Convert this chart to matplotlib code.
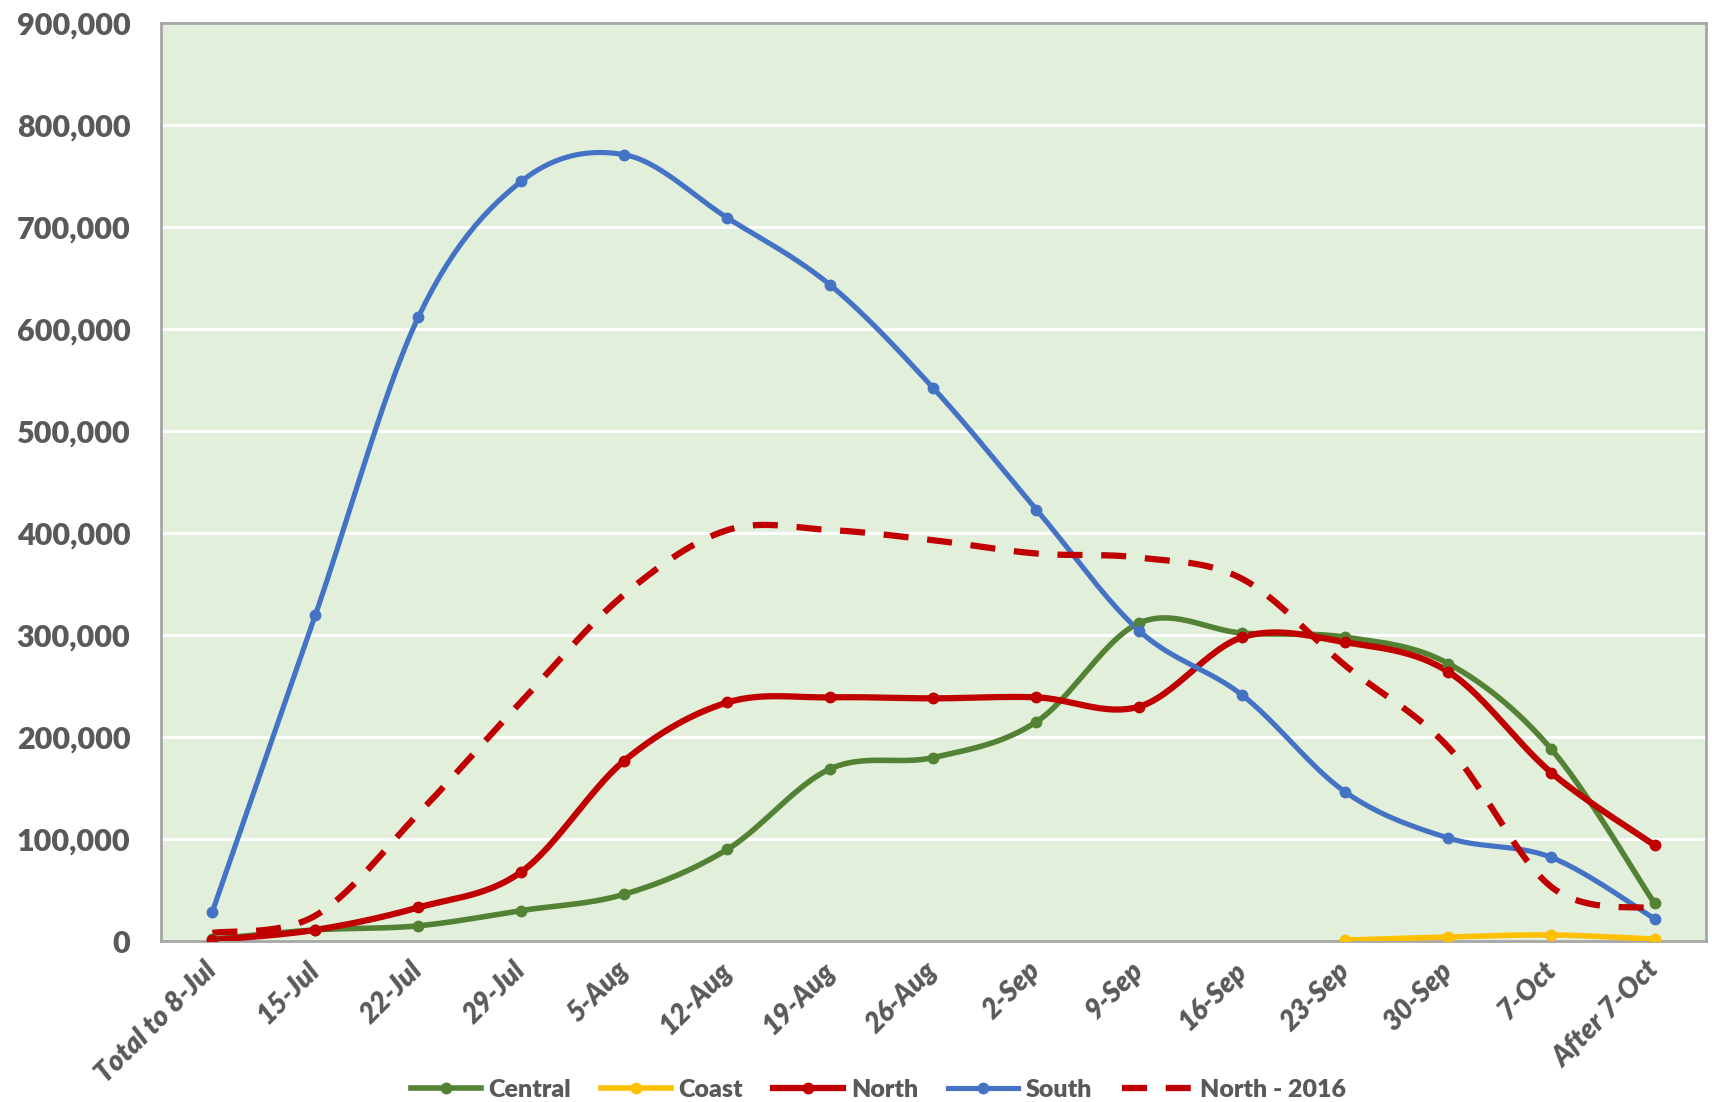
import numpy as np
import matplotlib
matplotlib.use('agg')
import matplotlib.pyplot as plt


# Data
weeks = ['Total to 8-Jul', '15-Jul', '22-Jul', '29-Jul', '5-Aug', '12-Aug', '19-Aug',
         '26-Aug', '2-Sep', '9-Sep', '16-Sep', '23-Sep', '30-Sep', '7-Oct', 'After 7-Oct']
central = [2000, 11000, 15000, 30000, 46000, 90000, 169000, 180000, 215000,
           312000, 302000, 298000, 272000, 188000, 37000]
coast = [np.nan] * 11 + [1000, 4000, 6000, 2000]
north = [1000, 11000, 33000, 68000, 177000, 234000, 239000, 238000, 239000,
         230000, 298000, 293000, 264000, 165000, 94000]
south = [29000, 320000, 612000, 745000, 771000, 709000, 643000, 542000, 423000,
         304000, 241000, 146000, 101000, 82000, 22000]
north_2016 = [8000, 25000, 125000, 235000, 340000, 403000, 403000, 393000, 380000,
              376000, 355000, 270000, 190000, 53000, 32000]

TXT = '#595959'
plt.rcParams['font.family'] = ['Lato', 'DejaVu Sans']


def smooth(xs, ys, n=30):
    # Catmull-Rom style bezier, similar to Excel's smoothed line
    xs = np.asarray(xs, float)
    ys = np.asarray(ys, float)
    ok = ~np.isnan(ys)
    xs, ys = xs[ok], ys[ok]
    p = np.column_stack([xs, ys])
    out = []
    t = np.linspace(0, 1, n)[:, None]
    for i in range(len(p) - 1):
        p0 = p[max(i - 1, 0)]
        p1 = p[i]
        p2 = p[i + 1]
        p3 = p[min(i + 2, len(p) - 1)]
        c1 = p1 + (p2 - p0) / 6
        c2 = p2 - (p3 - p1) / 6
        seg = ((1 - t) ** 3) * p1 + 3 * ((1 - t) ** 2) * t * c1 + 3 * (1 - t) * t ** 2 * c2 + t ** 3 * p2
        out.append(seg if i == 0 else seg[1:])
    seg = np.vstack(out)
    return seg[:, 0], seg[:, 1]


fig = plt.figure(figsize=(17.12, 11.02), dpi=100)
ax = fig.add_axes([0.094, 0.146, 0.9025, 0.833])
ax.set_facecolor('#E2EFDA')

x = np.arange(len(weeks))
series = [
    ('Central', central, '#548235', 4.0),
    ('Coast', coast, '#FFC000', 4.0),
    ('North', north, '#C00000', 4.5),
    ('South', south, '#4472C4', 3.7),
]
for name, vals, col, lw in series:
    sx, sy = smooth(x, vals)
    ax.plot(sx, sy, color=col, lw=lw, solid_capstyle='round', zorder=3)
    ax.plot(x, vals, 'o', color=col, ms=7.5, zorder=4)
    # legend proxy
    ax.plot([], [], color=col, lw=lw, marker='o', ms=7.5, label=name)

sx, sy = smooth(x, north_2016)
ax.plot(sx, sy, color='#C00000', lw=4.5, dashes=(4, 3), zorder=3, label='North - 2016')

ax.set_xlim(-0.5, len(weeks) - 0.5)
ax.set_ylim(0, 900000)
ax.set_yticks(np.arange(0, 900001, 100000))
ax.set_yticklabels([f'{v:,}' for v in range(0, 900001, 100000)])
ax.set_xticks(x)
ax.set_xticklabels(weeks, rotation=45, ha='right', va='center', rotation_mode='anchor')
ax.tick_params(axis='y', length=0, pad=22, labelsize=22, labelcolor=TXT)
ax.tick_params(axis='x', length=0, pad=18, labelsize=20, labelcolor=TXT)
for lab in ax.get_yticklabels():
    lab.set_fontweight('heavy')
for lab in ax.get_xticklabels():
    lab.set_fontweight('heavy')
    lab.set_fontstyle('italic')

ax.yaxis.grid(True, color='white', lw=2.2)
ax.set_axisbelow(True)
for s in ax.spines.values():
    s.set_color('#A6A6A6')
    s.set_linewidth(2)

leg = fig.legend(loc='center', bbox_to_anchor=(0.513, 0.011), ncol=5, frameon=False,
                 fontsize=18, handlelength=2.8, columnspacing=1.2, handletextpad=0.3)
for t in leg.get_texts():
    t.set_color(TXT)
    t.set_fontweight('heavy')

plt.savefig('out.png', dpi=100)
